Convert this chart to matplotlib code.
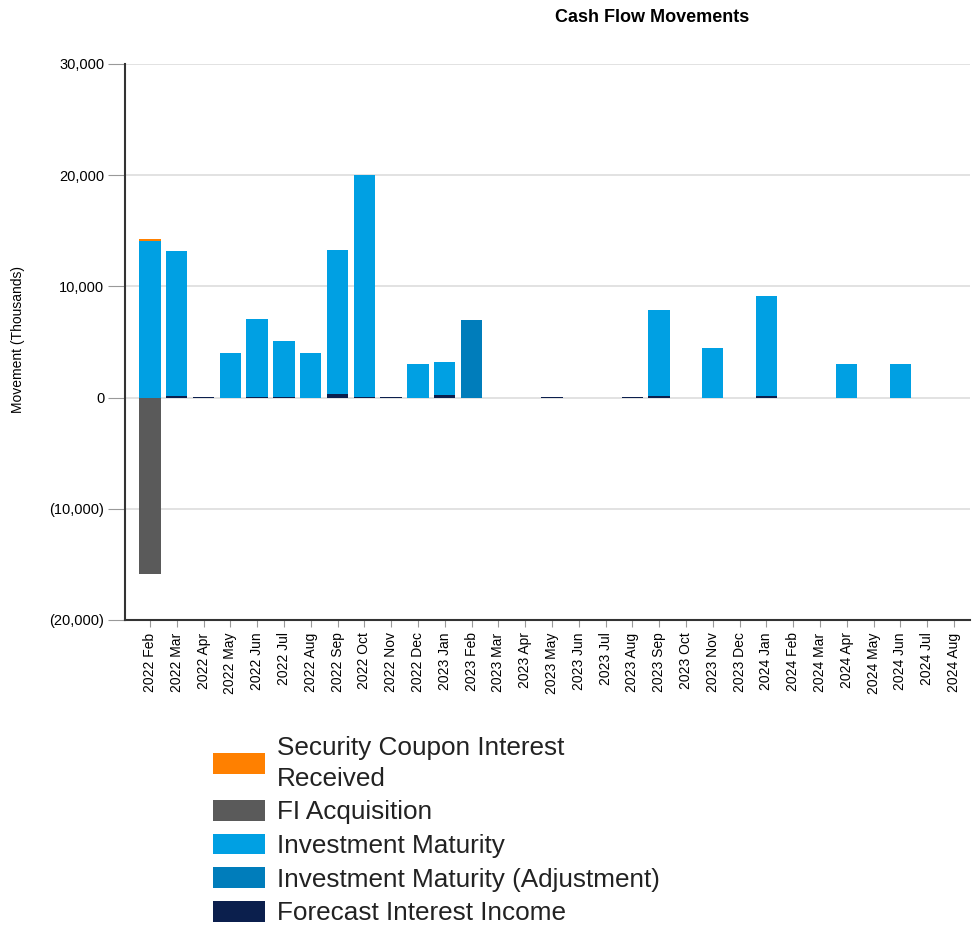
import numpy as np
from matplotlib import pyplot as plt
from matplotlib.ticker import FuncFormatter

months = ['2022 Feb', '2022 Mar', '2022 Apr', '2022 May', '2022 Jun', '2022 Jul',
          '2022 Aug', '2022 Sep', '2022 Oct', '2022 Nov', '2022 Dec', '2023 Jan',
          '2023 Feb', '2023 Mar', '2023 Apr', '2023 May', '2023 Jun', '2023 Jul',
          '2023 Aug', '2023 Sep', '2023 Oct', '2023 Nov', '2023 Dec', '2024 Jan',
          '2024 Feb', '2024 Mar', '2024 Apr', '2024 May', '2024 Jun', '2024 Jul',
          '2024 Aug']

# values in thousands
forecast_interest = [0, 150, 50, 0, 80, 80, 0, 350, 50, 50, 0, 250,
                     0, 0, 0, 50, 0, 0, 50, 100, 0, 0, 0, 120,
                     0, 0, 0, 0, 0, 0, 0]
maturity_adj = [0, 0, 0, 0, 0, 0, 0, 0, 0, 0, 0, 0,
                7000, 0, 0, 0, 0, 0, 0, 0, 0, 0, 0, 0,
                0, 0, 0, 0, 0, 0, 0]
maturity = [14050, 13000, 0, 4000, 7000, 5000, 4000, 12950, 20000, 0, 3000, 2950,
            0, 0, 0, 0, 0, 0, 0, 7750, 0, 4500, 0, 9000,
            0, 0, 3000, 0, 3000, 0, 0]
coupon = [200, 0, 0, 0, 0, 0, 0, 0, 0, 0, 0, 0,
          0, 0, 0, 0, 0, 0, 0, 0, 0, 0, 0, 0,
          0, 0, 0, 0, 0, 0, 0]
fi_acquisition = [-15850, 0, 0, 0, 0, 0, 0, 0, 0, 0, 0, 0,
                  0, 0, 0, 0, 0, 0, 0, 0, 0, 0, 0, 0,
                  0, 0, 0, 0, 0, 0, 0]

plt.rcParams['font.family'] = ['Liberation Sans', 'DejaVu Sans']

fig = plt.figure(figsize=(9.72, 9.26), dpi=100)
ax = fig.add_axes((0.1286, 0.3305, 0.8694, 0.6004))

x = np.arange(len(months))
w = 0.8
bottom = np.zeros(len(months))

h_fi = ax.bar(x, fi_acquisition, w, color='#5a5a5a')
h_fc = ax.bar(x, forecast_interest, w, bottom=bottom, color='#0b1f4d')
bottom += np.array(forecast_interest)
h_adj = ax.bar(x, maturity_adj, w, bottom=bottom, color='#007dbb')
bottom += np.array(maturity_adj)
h_mat = ax.bar(x, maturity, w, bottom=bottom, color='#00a0e3')
bottom += np.array(maturity)
h_cp = ax.bar(x, coupon, w, bottom=bottom, color='#ff8000')

ax.set_ylim(-20000, 30000)
ax.set_xlim(-0.93, 30.6)
ax.set_yticks(np.arange(-20000, 30001, 10000))
ax.yaxis.set_major_formatter(FuncFormatter(
    lambda v, p: f'({abs(v):,.0f})' if v < 0 else f'{v:,.0f}'))
ax.set_xticks(x)
ax.set_xticklabels(months, rotation=90)
ax.tick_params(axis='y', length=12, color='#999999', labelsize=10.5, pad=3)
ax.tick_params(axis='x', length=5, color='#999999', labelsize=10, pad=4)
ax.grid(axis='y', color='#dddddd', linewidth=1.2)
ax.set_axisbelow(True)
for s in ['top', 'right']:
    ax.spines[s].set_visible(False)
for s in ['left', 'bottom']:
    ax.spines[s].set_color('#333333')
    ax.spines[s].set_linewidth(1.5)

fig.text(0.0185, 0.633, 'Movement (Thousands)', rotation=90, ha='center',
         va='center', fontsize=10)
fig.text(0.671, 0.981, 'Cash Flow Movements', ha='center', va='center',
         fontsize=13, fontweight='bold')

leg = fig.legend([h_cp, h_fi, h_mat, h_adj, h_fc],
                 ['Security Coupon Interest\nReceived', 'FI Acquisition',
                  'Investment Maturity', 'Investment Maturity (Adjustment)',
                  'Forecast Interest Income'],
                 loc='upper left', bbox_to_anchor=(213 / 972, 1 - 736 / 926),
                 frameon=False, fontsize=18.8, handlelength=2.0, handleheight=0.85,
                 handletextpad=0.46, labelspacing=0.35, borderpad=0, borderaxespad=0,
                 labelcolor='#222222')
for t in leg.get_texts():
    t.set_linespacing(1.36)

fig.savefig('out.png', dpi=100)
